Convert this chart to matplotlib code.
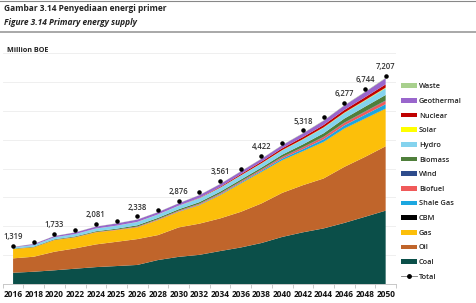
import numpy as np
import matplotlib
matplotlib.use("Agg")
import matplotlib.pyplot as plt
from matplotlib.patches import Patch
from matplotlib.lines import Line2D

# Data ---------------------------------------------------------------------------------------------------
years = ["2016", "2018", "2020", "2022", "2024", "2025", "2026", "2028", "2030", "2032",
         "2034", "2036", "2038", "2040", "2042", "2044", "2046", "2048", "2050"]

coal = [390, 425, 475, 530, 585, 622, 660, 830, 940, 1010, 1141, 1265, 1420, 1630, 1790, 1925, 2115, 2327, 2540]
oil = [498, 520, 643, 703, 786, 840, 895, 864, 1020, 1080, 1130, 1234, 1370, 1526, 1632, 1729, 1940, 2074, 2230]
gas = [322, 323, 403, 381, 415, 405, 405, 518, 539, 640, 805, 982, 1092, 1130, 1175, 1265, 1327, 1327, 1303]
cbm = [0, 0, 0, 0, 0, 0, 1, 1, 1, 2, 2, 2, 3, 3, 3, 4, 4, 5, 5]
shale_gas = [0, 0, 0, 0, 0, 0, 5, 8, 12, 18, 25, 32, 40, 55, 70, 90, 105, 128, 150]
biofuel = [5, 6, 8, 10, 12, 15, 20, 22, 25, 28, 32, 36, 40, 50, 60, 75, 85, 100, 115]
wind = [0, 0, 1, 1, 1, 2, 3, 3, 4, 5, 6, 7, 8, 9, 10, 11, 12, 14, 15]
biomass = [15, 18, 20, 24, 28, 32, 45, 45, 48, 52, 55, 58, 60, 75, 95, 120, 140, 165, 190]
hydro = [38, 60, 68, 80, 92, 102, 112, 114, 118, 130, 134, 138, 142, 150, 170, 192, 192, 208, 235]
solar = [0, 0, 1, 1, 2, 3, 4, 4, 5, 6, 7, 8, 10, 11, 12, 14, 15, 18, 20]
nuclear = [0, 0, 0, 0, 0, 0, 0, 0, 0, 10, 25, 40, 50, 60, 70, 80, 90, 100, 110]
geothermal = [14, 34, 42, 55, 66, 76, 80, 78, 82, 95, 97, 97, 100, 108, 128, 150, 155, 180, 215]
waste = [5, 5, 5, 5, 6, 6, 6, 6, 6, 7, 7, 8, 9, 10, 11, 12, 13, 14, 15]

total = [1319, 1462, 1733, 1867, 2081, 2190, 2338, 2550, 2876, 3195, 3561, 3985, 4422, 4880, 5318, 5790, 6277, 6744, 7207]
# indices of the total points that carry a label
labelled = [0, 2, 4, 6, 8, 10, 12, 14, 16, 17, 18]

names = ["Coal", "Oil", "Gas", "CBM", "Shale Gas", "Biofuel", "Wind", "Biomass",
         "Hydro", "Solar", "Nuclear", "Geothermal", "Waste"]
series = [coal, oil, gas, cbm, shale_gas, biofuel, wind, biomass, hydro, solar, nuclear, geothermal, waste]
colors = ["#0b4f49", "#c0652b", "#fcbf0a", "#000000", "#1ca7e0", "#f05a5a", "#2e4c8c", "#4f7f3b",
          "#84d3ee", "#ffff00", "#c00000", "#9966cc", "#a8d08d"]

# Figure -------------------------------------------------------------------------------------------------
plt.rcParams['font.family'] = ['Open Sans', 'DejaVu Sans']
fig = plt.figure(figsize=(4.77, 3.03), dpi=100)

# header
fig.text(0.008, 0.972, "Gambar 3.14 Penyediaan energi primer", fontsize=6, fontweight='bold',
         color='#222222', va='center', ha='left')
fig.text(0.008, 0.927, "Figure 3.14 Primary energy supply", fontsize=6, fontweight='bold',
         style='italic', color='#222222', va='center', ha='left')
fig.add_artist(Line2D([0, 1], [0.998, 0.998], color='#888888', lw=0.8))
fig.add_artist(Line2D([0, 1], [0.893, 0.893], color='#999999', lw=1.2))
fig.text(0.015, 0.832, "Million BOE", fontsize=5.2, fontweight='bold', color='#222222',
         va='center', ha='left')

ax = fig.add_axes([0.0057, 0.0627, 0.8245, 0.7623])
x = np.arange(len(years))
ax.stackplot(x, *series, colors=colors, linewidth=0, zorder=2)
ax.scatter(x, total, s=5, color='black', zorder=4)
for i in labelled:
    ax.annotate(f"{total[i]:,}", (x[i], total[i]), xytext=(0, 3.5), textcoords='offset points',
                ha='center', va='bottom', fontsize=5.5, fontweight='semibold', color='#333333')

ax.set_xlim(-0.5, len(years) - 0.5)
ax.set_ylim(0, 8000)
ax.set_yticks(np.arange(0, 8001, 1000))
ax.yaxis.grid(True, color='#ececec', lw=0.6, zorder=0)
ax.set_axisbelow(True)
ax.tick_params(axis='y', left=False, labelleft=False)
ax.set_xticks(x)
ax.set_xticklabels(years, fontsize=6, fontweight='bold', color='#111111')
ax.set_xticks(np.arange(-0.5, len(years)), minor=True)
ax.tick_params(axis='x', which='major', length=0, pad=4)
ax.tick_params(axis='x', which='minor', length=3, color='#bfbfbf', width=0.6)
for s in ['top', 'right', 'left']:
    ax.spines[s].set_visible(False)
ax.spines['bottom'].set_color('#bfbfbf')
ax.spines['bottom'].set_linewidth(0.6)

# legend (top to bottom)
handles = [Patch(facecolor=c, edgecolor='none') for c in colors[::-1]]
handles.append(Line2D([0], [0], color='#777777', lw=0.6, marker='o', markersize=2.5,
                      markerfacecolor='black', markeredgecolor='black'))
labels = names[::-1] + ["Total"]
leg = fig.legend(handles, labels, loc='upper left', bbox_to_anchor=(0.835, 0.735), frameon=False,
                 fontsize=5.3, handlelength=2.2, handleheight=0.6, handletextpad=0.2,
                 labelspacing=1.04, borderaxespad=0)
for t in leg.get_texts():
    t.set_fontweight('semibold')
    t.set_color('#222222')

fig.savefig("out.png", dpi=100)
